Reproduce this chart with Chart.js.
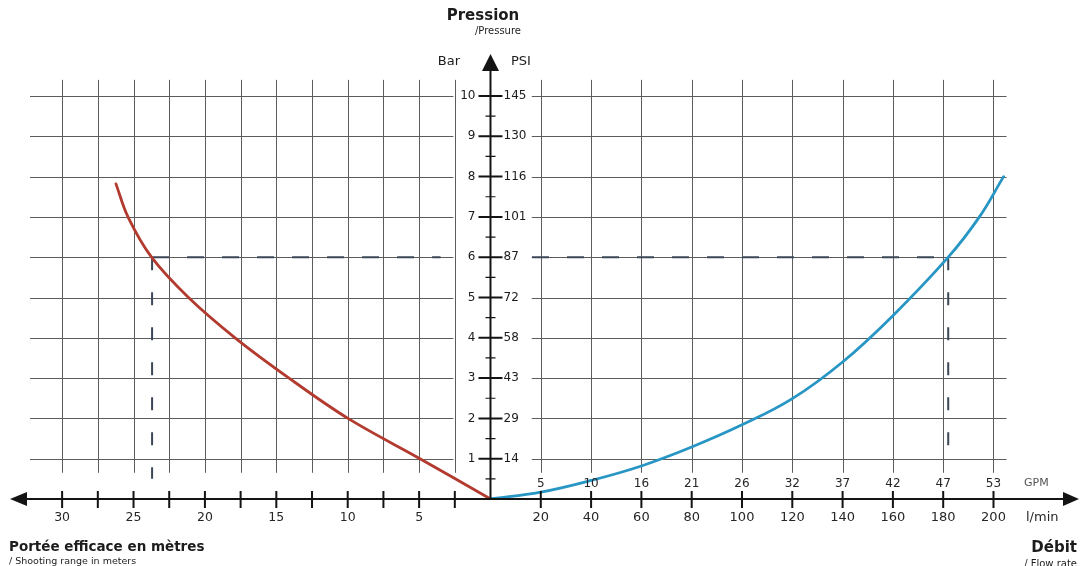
<!DOCTYPE html>
<html>
<head>
<meta charset="utf-8">
<script src="https://cdn.jsdelivr.net/npm/chart.js@4.4.1/dist/chart.umd.min.js"></script>
<style>
  html, body { margin: 0; padding: 0; background: #fff; }
</style>
</head>
<body>
<canvas id="chart" width="1080" height="566"></canvas>
<script>
// portée efficace (m) -> pression (bar), courbe rouge
const rangeMeters = [26.23, 25.39, 23.74, 21.15, 17.89, 14.11, 9.98, 4.94, 0];
const rangeBar = [7.82, 7, 6, 5, 4, 3, 2, 1, 0];

// débit (l/min) -> pression (bar), courbe bleue
const flowLpm = [0, 20, 40, 60, 80, 100, 120, 140, 160, 182, 194.4, 204];
const flowBar = [0, 0.17, 0.46, 0.82, 1.29, 1.84, 2.49, 3.4, 4.55, 6, 7, 8];

// axis ticks / labels
const rangeTicks = [2.5, 5, 7.5, 10, 12.5, 15, 17.5, 20, 22.5, 25, 27.5, 30];
const rangeLabels = [5, 10, 15, 20, 25, 30];
const flowTicks = [20, 40, 60, 80, 100, 120, 140, 160, 180, 200];
const gpmLabels = ['5', '10', '16', '21', '26', '32', '37', '42', '47', '53'];
const barTicks = [1, 2, 3, 4, 5, 6, 7, 8, 9, 10];
const psiLabels = ['14', '29', '43', '58', '72', '87', '101', '116', '130', '145'];

// working point shown by the dashed lines
const markBar = 6;
const markRange = 23.7;
const markFlow = 182;

const FONT = '"DejaVu Sans", Verdana, sans-serif';

function tri(ctx, a, b, c) {
  ctx.beginPath();
  ctx.moveTo(a[0], a[1]);
  ctx.lineTo(b[0], b[1]);
  ctx.lineTo(c[0], c[1]);
  ctx.closePath();
  ctx.fill();
}

function text(ctx, str, x, y, font, align, color) {
  ctx.font = font;
  ctx.textAlign = align;
  ctx.textBaseline = 'middle';
  ctx.fillStyle = color || '#1c1c1c';
  ctx.fillText(str, x, y);
}

const diagram = {
  id: 'diagram',
  beforeDatasetsDraw(chart) {
    const { ctx, scales: { xm, xq, y } } = chart;
    ctx.save();

    // grid
    ctx.strokeStyle = '#5c5c5c';
    ctx.lineWidth = 1;
    ctx.beginPath();
    barTicks.forEach(v => {
      const py = Math.round(y.getPixelForValue(v)) + 0.5;
      ctx.moveTo(xm.getPixelForValue(32.25), py);
      ctx.lineTo(xm.getPixelForValue(2.6), py);
      ctx.moveTo(xq.getPixelForValue(16.4), py);
      ctx.lineTo(xq.getPixelForValue(205.2), py);
    });
    const gTop = y.getPixelForValue(10.4);
    const gBot = y.getPixelForValue(0.65);
    rangeTicks.forEach(v => {
      const px = Math.round(xm.getPixelForValue(v)) + 0.5;
      ctx.moveTo(px, gTop);
      ctx.lineTo(px, gBot);
    });
    flowTicks.forEach(v => {
      const px = Math.round(xq.getPixelForValue(v)) + 0.5;
      ctx.moveTo(px, gTop);
      ctx.lineTo(px, gBot);
    });
    ctx.stroke();

    // dashed reading lines at 6 bar
    const my = y.getPixelForValue(markBar);
    const mxL = xm.getPixelForValue(markRange);
    const mxR = xq.getPixelForValue(markFlow);
    ctx.strokeStyle = '#3b4757';
    ctx.lineWidth = 2;
    ctx.setLineDash([17, 18]);
    ctx.beginPath();
    ctx.moveTo(mxL, my);
    ctx.lineTo(xm.getPixelForValue(3.5), my);
    ctx.moveTo(xq.getPixelForValue(16.5), my);
    ctx.lineTo(mxR, my);
    ctx.stroke();
    ctx.setLineDash([13, 22]);
    ctx.beginPath();
    ctx.moveTo(mxL, my);
    ctx.lineTo(mxL, y.getPixelForValue(0.5));
    ctx.moveTo(mxR, my);
    ctx.lineTo(mxR, y.getPixelForValue(0.95));
    ctx.stroke();
    ctx.restore();
  },
  afterDatasetsDraw(chart) {
    const { ctx, chartArea, scales: { xm, xq, y } } = chart;
    const ox = xq.getPixelForValue(0);
    const oy = y.getPixelForValue(0);
    ctx.save();
    ctx.strokeStyle = '#141414';
    ctx.fillStyle = '#141414';
    ctx.lineWidth = 2;

    // horizontal axis with two arrows
    ctx.beginPath();
    ctx.moveTo(chartArea.left + 10, oy);
    ctx.lineTo(chart.width - 12, oy);
    ctx.stroke();
    tri(ctx, [chartArea.left, oy], [chartArea.left + 17, oy - 7], [chartArea.left + 17, oy + 7]);
    tri(ctx, [chart.width - 1, oy], [chart.width - 17, oy - 7], [chart.width - 17, oy + 7]);

    // vertical axis with arrow
    ctx.beginPath();
    ctx.moveTo(ox, oy);
    ctx.lineTo(ox, 66);
    ctx.stroke();
    tri(ctx, [ox, 54], [ox - 8.5, 71], [ox + 8.5, 71]);

    // ticks
    ctx.beginPath();
    rangeTicks.forEach(v => {
      const px = xm.getPixelForValue(v);
      ctx.moveTo(px, oy - 8);
      ctx.lineTo(px, oy + 9);
    });
    flowTicks.forEach(v => {
      const px = xq.getPixelForValue(v);
      ctx.moveTo(px, oy - 8);
      ctx.lineTo(px, oy + 9);
    });
    barTicks.forEach(v => {
      const py = y.getPixelForValue(v);
      ctx.moveTo(ox - 12, py);
      ctx.lineTo(ox + 12, py);
    });
    ctx.stroke();
    ctx.lineWidth = 1.2;
    ctx.beginPath();
    barTicks.forEach(v => {
      const py = y.getPixelForValue(v - 0.5);
      ctx.moveTo(ox - 5, py);
      ctx.lineTo(ox + 5, py);
    });
    ctx.stroke();

    // tick labels
    rangeLabels.forEach(v => {
      text(ctx, String(v), xm.getPixelForValue(v), oy + 19, '12.5px ' + FONT, 'center', '#262626');
    });
    flowTicks.forEach((v, i) => {
      text(ctx, String(v), xq.getPixelForValue(v), oy + 19, '13px ' + FONT, 'center', '#262626');
      text(ctx, gpmLabels[i], xq.getPixelForValue(v), oy - 15, '12px ' + FONT, 'center', '#262626');
    });
    barTicks.forEach((v, i) => {
      const py = y.getPixelForValue(v);
      text(ctx, String(v), ox - 15, py, '12px ' + FONT, 'right', '#1c1c1c');
      text(ctx, psiLabels[i], ox + 13, py, '12px ' + FONT, 'left', '#1c1c1c');
    });

    // units and titles
    text(ctx, 'GPM', 1024, oy - 16, '11px ' + FONT, 'left', '#555');
    text(ctx, 'l/min', 1026, oy + 19, '13px ' + FONT, 'left', '#262626');
    text(ctx, 'Bar', 460, 62, '13px ' + FONT, 'right', '#1c1c1c');
    text(ctx, 'PSI', 511, 62, '13px ' + FONT, 'left', '#1c1c1c');
    text(ctx, 'Pression', 483, 16, 'bold 15px ' + FONT, 'center', '#1c1c1c');
    text(ctx, '/Pressure', 521, 31, '10px ' + FONT, 'right', '#1c1c1c');
    text(ctx, 'Portée efficace en mètres', 9, 547, 'bold 13.5px ' + FONT, 'left', '#1c1c1c');
    text(ctx, '/ Shooting range in meters', 9, 562, '9.5px ' + FONT, 'left', '#1c1c1c');
    text(ctx, 'Débit', 1077, 548, 'bold 15px ' + FONT, 'right', '#1c1c1c');
    text(ctx, '/ Flow rate', 1077, 564, '10px ' + FONT, 'right', '#1c1c1c');
    ctx.restore();
  }
};

new Chart(document.getElementById('chart'), {
  type: 'line',
  data: {
    datasets: [
      {
        label: 'Portée efficace',
        data: rangeMeters.map((m, i) => ({ x: m, y: rangeBar[i] })),
        xAxisID: 'xm',
        yAxisID: 'y',
        borderColor: '#b23a2f',
        borderWidth: 2.8,
        borderCapStyle: 'round',
        pointRadius: 0,
        tension: 0.35,
        fill: false
      },
      {
        label: 'Débit',
        data: flowLpm.map((q, i) => ({ x: q, y: flowBar[i] })),
        xAxisID: 'xq',
        yAxisID: 'y',
        borderColor: '#2896c4',
        borderWidth: 2.8,
        borderCapStyle: 'round',
        pointRadius: 0,
        tension: 0.4,
        fill: false
      }
    ]
  },
  options: {
    responsive: false,
    animation: false,
    layout: { padding: { left: 10, right: 10, top: 96, bottom: 67 } },
    scales: {
      xm: { type: 'linear', axis: 'x', reverse: true, min: -40.58, max: 33.65, display: false },
      xq: { type: 'linear', axis: 'x', min: -191.05, max: 230.42, display: false },
      y: { type: 'linear', min: 0, max: 10, display: false }
    },
    plugins: {
      legend: { display: false },
      tooltip: { enabled: false }
    }
  },
  plugins: [diagram]
});
</script>
</body>
</html>
